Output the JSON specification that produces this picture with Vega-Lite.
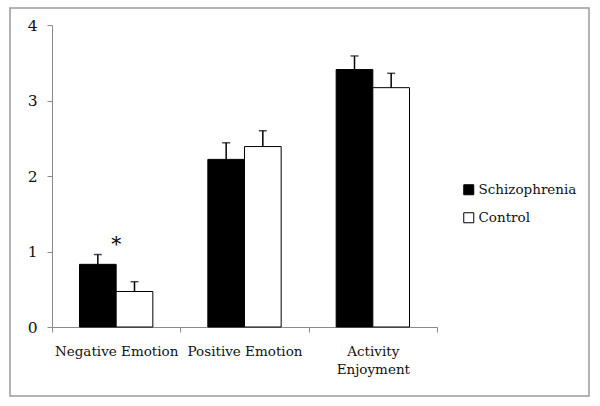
{
  "$schema": "https://vega.github.io/schema/vega-lite/v6.json",
  "width": 579,
  "height": 388,
  "autosize": {"type": "none"},
  "padding": {"left": 10, "top": 8, "right": 11, "bottom": 10},
  "background": "white",
  "config": {
    "view": {"stroke": "#9a9a9a", "strokeWidth": 1.5},
    "font": "DejaVu Serif"
  },
  "data": {
    "values": [
      {"category": "Negative Emotion", "group": "Schizophrenia", "mean": 0.83, "upper": 0.96},
      {"category": "Negative Emotion", "group": "Control", "mean": 0.47, "upper": 0.60},
      {"category": "Positive Emotion", "group": "Schizophrenia", "mean": 2.22, "upper": 2.44},
      {"category": "Positive Emotion", "group": "Control", "mean": 2.39, "upper": 2.60},
      {"category": "Activity Enjoyment", "group": "Schizophrenia", "mean": 3.41, "upper": 3.59},
      {"category": "Activity Enjoyment", "group": "Control", "mean": 3.17, "upper": 3.36}
    ]
  },
  "encoding": {
    "x": {
      "field": "category",
      "type": "nominal",
      "sort": ["Negative Emotion", "Positive Emotion", "Activity Enjoyment"],
      "scale": {"range": [42, 427], "paddingInner": 0, "paddingOuter": 0},
      "axis": {
        "title": null,
        "orient": "bottom",
        "offset": -69,
        "labelAngle": 0,
        "tickBand": "extent",
        "domainColor": "#8a8a8a",
        "tickColor": "#8a8a8a",
        "tickSize": 5,
        "labelFontSize": 13.5,
        "labelColor": "#111",
        "labelPadding": 12,
        "labelBaseline": "top",
        "labelLineHeight": 18,
        "labelExpr": "datum.label == 'Activity Enjoyment' ? ['Activity', 'Enjoyment'] : datum.label"
      }
    },
    "y": {
      "field": "mean",
      "type": "quantitative",
      "scale": {"domain": [0, 4], "range": [319, 17], "nice": false},
      "axis": {
        "title": null,
        "values": [0, 1, 2, 3, 4],
        "offset": -42,
        "grid": false,
        "domainColor": "#8a8a8a",
        "tickColor": "#8a8a8a",
        "tickSize": 5,
        "labelFontSize": 15.5,
        "labelColor": "#111",
        "labelPadding": 10
      }
    }
  },
  "layer": [
    {
      "mark": {"type": "bar", "stroke": "black", "strokeWidth": 1},
      "encoding": {
        "xOffset": {
          "field": "group",
          "sort": ["Schizophrenia", "Control"],
          "scale": {"paddingInner": 0, "paddingOuter": 0.75}
        },
        "fill": {
          "field": "group",
          "type": "nominal",
          "sort": ["Schizophrenia", "Control"],
          "scale": {"domain": ["Schizophrenia", "Control"], "range": ["black", "white"]},
          "legend": {
            "title": null,
            "orient": "none",
            "legendX": 452,
            "legendY": 175,
            "padding": 0,
            "symbolType": "square",
            "symbolSize": 100,
            "symbolStrokeColor": "black",
            "symbolStrokeWidth": 1,
            "labelFontSize": 13.5,
            "labelColor": "#111",
            "labelOffset": 3,
            "rowPadding": 13
          }
        }
      }
    },
    {
      "mark": {"type": "rule", "color": "black", "strokeWidth": 1.5},
      "encoding": {
        "xOffset": {"field": "group", "sort": ["Schizophrenia", "Control"]},
        "y2": {"field": "upper"}
      }
    },
    {
      "mark": {"type": "tick", "color": "black", "size": 8, "thickness": 1.5},
      "encoding": {
        "xOffset": {"field": "group", "sort": ["Schizophrenia", "Control"]},
        "y": {"field": "upper", "type": "quantitative"}
      }
    },
    {
      "data": {"values": [{"category": "Negative Emotion", "mean": 1.08, "note": "*"}]},
      "mark": {"type": "text", "fontSize": 20, "color": "black", "baseline": "middle"},
      "encoding": {"text": {"field": "note"}}
    }
  ]
}
